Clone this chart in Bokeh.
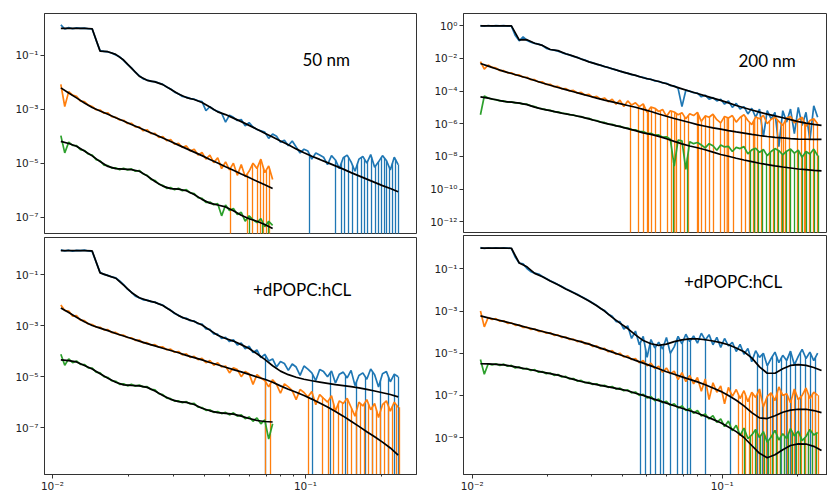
import numpy as np
from bokeh.plotting import figure
from bokeh.layouts import row, column
from bokeh.models import FixedTicker, CustomJSTickFormatter, Range1d, Label
from bokeh.embed import file_html
from bokeh.resources import INLINE

# ---------------- shared momentum-transfer grid (q, 1/A) ----------------
q = [0.01079, 0.01118, 0.01159, 0.01201, 0.01244, 0.01290, 0.01337, 0.01385, 0.01435, 0.01488,
     0.01542, 0.01598, 0.01656, 0.01716, 0.01778, 0.01843, 0.01910, 0.01979, 0.02051, 0.02126,
     0.02203, 0.02283, 0.02366, 0.02452, 0.02541, 0.02633, 0.02729, 0.02828, 0.02931, 0.03037,
     0.03148, 0.03262, 0.03381, 0.03504, 0.03631, 0.03763, 0.03899, 0.04041, 0.04188, 0.04340,
     0.04498, 0.04661, 0.04831, 0.05006, 0.05188, 0.05377, 0.05572, 0.05775, 0.05984, 0.06202,
     0.06427, 0.06661, 0.06903, 0.07154, 0.07414, 0.07683, 0.07962, 0.08252, 0.08552, 0.08862,
     0.09184, 0.09518, 0.09864, 0.1022, 0.1059, 0.1098, 0.1138, 0.1179, 0.1222, 0.1267,
     0.1313, 0.1361, 0.1410, 0.1461, 0.1514, 0.1569, 0.1626, 0.1685, 0.1747, 0.1810,
     0.1876, 0.1944, 0.2015, 0.2088, 0.2164, 0.2243, 0.2324, 0.2409, 0.2496, 0.2587, 0.2681]

# ---------------- log10(R): data on q[:n], fits on q[::2][:n] ----------------
# ---------------- *_zero: log10(q) where the measured R is <= 0 (drops off the log axis)
# 50 nm (top left)
tl_blue = [0.12, -0.03, 0.02, -0.02, 0.01, -0.01, 0.00, -0.02, -0.03, -0.45,
           -0.83, -0.86, -0.88, -0.92, -0.99, -1.06, -1.19, -1.34, -1.47, -1.63,
           -1.76, -1.88, -1.92, -1.97, -1.98, -2.03, -2.08, -2.18, -2.25, -2.37,
           -2.43, -2.53, -2.55, -2.61, -2.63, -2.69, -2.72, -3.05, -2.91, -3.02,
           -3.08, -3.15, -3.48, -3.22, -3.30, -3.42, -3.38, -3.62, -3.50, -3.66,
           -3.75, -3.80, -3.85, -4.08, -3.92, -4.00, -4.22, -4.15, -4.35, -4.18,
           -4.40, -4.62, -4.48, -4.55, -4.85, -4.62, -4.70, -4.78, -5.05, -4.72,
           -4.88, -5.20, -4.80, -4.70, -4.95, -5.30, -4.85, -4.75, -5.00, -4.68,
           -5.15, -4.95, -4.72, -4.90, -5.25, -4.78, -5.05]
tl_blue_zero = [-0.9842, -0.8814, -0.8577, -0.8458, -0.8300, -0.8142, -0.7945, -0.7787,
                -0.7668, -0.7549, -0.7391, -0.7233, -0.7115, -0.6996, -0.6877, -0.6798,
                -0.6680, -0.6561, -0.6443, -0.6324]
tl_blue_fit = [-0.01, -0.01, -0.01, -0.01, -0.02, -0.85, -0.87, -0.97, -1.18, -1.48,
               -1.78, -1.93, -1.99, -2.09, -2.26, -2.44, -2.57, -2.64, -2.75, -2.92,
               -3.10, -3.20, -3.33, -3.46, -3.60, -3.74, -3.89, -4.03, -4.18, -4.32,
               -4.47, -4.61, -4.74, -4.86, -4.98, -5.10, -5.22, -5.35, -5.47, -5.59,
               -5.71, -5.83, -5.94, -6.06]
tl_orange = [-2.08, -2.90, -2.35, -2.48, -2.52, -2.70, -2.72, -2.85, -2.90, -3.02,
             -3.03, -3.15, -3.14, -3.28, -3.30, -3.40, -3.41, -3.53, -3.52, -3.66,
             -3.65, -3.80, -3.76, -3.91, -3.89, -4.05, -4.01, -4.17, -4.12, -4.30,
             -4.26, -4.42, -4.36, -4.55, -4.48, -4.70, -4.60, -4.85, -4.70, -4.98,
             -4.80, -5.20, -4.95, -5.25, -5.00, -5.45, -5.05, -5.50, -5.30, -5.00,
             -5.20, -4.85, -5.35, -5.10, -5.60]
tl_orange_zero = [-1.2964, -1.2292, -1.2095, -1.1897, -1.1779, -1.1660, -1.1542, -1.1423]
tl_orange_fit = [-2.21, -2.40, -2.58, -2.77, -2.94, -3.07, -3.19, -3.32, -3.44, -3.57,
                 -3.69, -3.82, -3.94, -4.07, -4.20, -4.33, -4.46, -4.59, -4.72, -4.86,
                 -4.99, -5.13, -5.26, -5.40, -5.53, -5.67, -5.80, -5.94]
tl_green = [-3.98, -4.62, -4.22, -4.34, -4.35, -4.50, -4.53, -4.66, -4.70, -4.87,
            -4.91, -5.07, -5.09, -5.18, -5.17, -5.24, -5.19, -5.25, -5.21, -5.30,
            -5.27, -5.40, -5.45, -5.60, -5.64, -5.78, -5.82, -5.93, -5.90, -5.98,
            -5.93, -6.02, -5.98, -6.10, -6.13, -6.28, -6.30, -6.45, -6.44, -6.54,
            -6.50, -6.95, -6.55, -6.75, -6.68, -6.90, -6.82, -7.15, -6.95, -7.10,
            -7.20, -7.05, -7.35, -7.15, -7.30]
tl_green_zero = [-1.2213, -1.1700, -1.1462]
tl_green_fit = [-4.19, -4.27, -4.37, -4.55, -4.73, -4.94, -5.12, -5.20, -5.22, -5.24,
                -5.30, -5.47, -5.68, -5.85, -5.94, -5.96, -6.02, -6.16, -6.34, -6.48,
                -6.55, -6.62, -6.76, -6.93, -7.06, -7.15, -7.27, -7.42]

# 50 nm +dPOPC:hCL (bottom left)
bl_blue = [-0.02, -0.06, -0.03, -0.07, -0.04, -0.05, -0.03, -0.06, -0.08, -0.50,
           -0.90, -0.98, -1.02, -1.08, -1.12, -1.24, -1.38, -1.56, -1.68, -1.84,
           -1.90, -1.98, -1.99, -2.05, -2.07, -2.14, -2.19, -2.30, -2.38, -2.52,
           -2.58, -2.69, -2.70, -2.80, -2.81, -2.92, -2.93, -3.12, -3.14, -3.32,
           -3.33, -3.50, -3.45, -3.62, -3.55, -3.75, -3.68, -3.90, -3.80, -4.05,
           -3.95, -4.25, -4.12, -4.38, -4.30, -4.62, -4.40, -4.48, -4.75, -4.50,
           -4.62, -4.95, -4.58, -4.70, -4.85, -5.15, -4.72, -4.80, -5.00, -4.78,
           -5.25, -4.90, -4.82, -5.05, -4.75, -5.35, -4.95, -4.85, -5.10, -4.70,
           -4.92, -5.40, -4.88, -4.80, -5.20, -4.90, -5.00]
bl_blue_zero = [-1.1581, -0.9723, -0.9012, -0.8419, -0.7984, -0.7628, -0.7352, -0.7036,
                -0.6719, -0.6482, -0.6324]
bl_blue_fit = [-0.05, -0.05, -0.05, -0.05, -0.06, -0.92, -1.03, -1.13, -1.40, -1.69,
               -1.90, -2.00, -2.08, -2.20, -2.40, -2.60, -2.73, -2.83, -2.97, -3.17,
               -3.37, -3.50, -3.60, -3.74, -3.89, -4.10, -4.32, -4.57, -4.78, -4.92,
               -5.02, -5.10, -5.16, -5.21, -5.26, -5.31, -5.35, -5.39, -5.44, -5.50,
               -5.56, -5.63, -5.70, -5.79]
bl_orange = [-2.18, -2.40, -2.42, -2.62, -2.60, -2.78, -2.80, -2.93, -2.95, -3.05,
             -3.06, -3.16, -3.15, -3.27, -3.26, -3.36, -3.37, -3.46, -3.47, -3.57,
             -3.56, -3.67, -3.66, -3.76, -3.74, -3.84, -3.83, -3.94, -3.92, -4.04,
             -4.01, -4.14, -4.10, -4.24, -4.20, -4.33, -4.28, -4.45, -4.36, -4.55,
             -4.45, -4.62, -4.58, -4.85, -4.65, -4.72, -5.00, -4.80, -4.88, -5.30,
             -4.92, -5.05, -5.15, -5.40, -5.12, -5.30, -5.65, -5.28, -5.40, -5.55,
             -5.90, -5.50, -5.62, -5.80, -5.58, -6.10, -5.70, -5.85, -6.00, -5.75,
             -6.35, -5.95, -6.05, -5.85, -6.20, -6.55, -6.00, -6.15, -5.90, -6.30,
             -6.05, -6.60, -6.10, -5.95, -6.35, -6.00, -6.20]
bl_orange_zero = [-1.1581, -1.1383, -0.9881, -0.9328, -0.9091, -0.8893, -0.8696, -0.8538,
                  -0.8340, -0.8182, -0.7984, -0.7826, -0.7668, -0.7510, -0.7352, -0.7194,
                  -0.7036, -0.6877, -0.6719, -0.6561, -0.6403, -0.6285]
bl_orange_fit = [-2.30, -2.48, -2.66, -2.84, -2.99, -3.09, -3.19, -3.30, -3.40, -3.50,
                 -3.60, -3.70, -3.79, -3.88, -3.97, -4.06, -4.16, -4.25, -4.34, -4.44,
                 -4.53, -4.63, -4.72, -4.81, -4.91, -5.01, -5.10, -5.22, -5.36, -5.49,
                 -5.61, -5.74, -5.88, -6.03, -6.19, -6.37, -6.55, -6.75, -6.95, -7.16,
                 -7.36, -7.57, -7.80, -8.08]
bl_green = [-4.12, -4.55, -4.30, -4.45, -4.38, -4.52, -4.52, -4.65, -4.66, -4.82,
            -4.85, -5.00, -5.03, -5.16, -5.18, -5.30, -5.28, -5.36, -5.30, -5.37,
            -5.33, -5.40, -5.39, -5.50, -5.52, -5.67, -5.70, -5.84, -5.86, -5.96,
            -5.95, -6.02, -5.98, -6.07, -6.05, -6.20, -6.21, -6.32, -6.30, -6.40,
            -6.37, -6.45, -6.40, -6.50, -6.42, -6.55, -6.50, -6.65, -6.58, -6.75,
            -6.62, -6.85, -6.70, -7.45, -6.85]
bl_green_zero = []
bl_green_fit = [-4.34, -4.37, -4.42, -4.56, -4.70, -4.88, -5.06, -5.22, -5.32, -5.34,
                -5.36, -5.42, -5.56, -5.74, -5.89, -5.98, -6.01, -6.09, -6.24, -6.34,
                -6.41, -6.44, -6.47, -6.55, -6.64, -6.72, -6.76, -6.78]

# 200 nm (top right)
tr_blue = [0.01, -0.03, 0.02, -0.02, 0.01, -0.01, 0.01, -0.02, -0.02, -0.60,
           -0.92, -0.68, -0.90, -1.00, -1.08, -1.12, -1.21, -1.38, -1.45, -1.49,
           -1.55, -1.64, -1.72, -1.78, -1.88, -1.93, -2.04, -2.10, -2.20, -2.27,
           -2.36, -2.41, -2.50, -2.55, -2.64, -2.70, -2.78, -2.85, -2.90, -2.99,
           -3.03, -3.12, -3.16, -3.25, -3.27, -3.38, -3.40, -3.50, -3.52, -3.66,
           -3.68, -3.83, -4.95, -3.95, -4.00, -4.10, -4.12, -4.35, -4.25, -4.50,
           -4.40, -4.60, -4.50, -4.80, -4.60, -5.00, -4.75, -5.10, -4.95, -5.40,
           -5.05, -5.60, -5.10, -6.80, -5.20, -5.70, -5.30, -7.40, -5.20, -5.90,
           -5.10, -6.60, -5.00, -6.10, -5.30, -7.00, -4.90, -5.60]
tr_blue_zero = []
tr_blue_fit = [0.00, 0.00, 0.00, 0.00, -0.01, -0.86, -0.85, -1.07, -1.20, -1.45,
               -1.52, -1.71, -1.86, -2.03, -2.21, -2.35, -2.49, -2.63, -2.78, -2.91,
               -3.04, -3.18, -3.29, -3.41, -3.55, -3.71, -3.86, -4.01, -4.15, -4.29,
               -4.43, -4.57, -4.72, -4.88, -5.02, -5.16, -5.29, -5.41, -5.52, -5.63,
               -5.75, -5.87, -5.96, -6.04, -6.10]
tr_orange = [-2.20, -2.65, -2.40, -2.55, -2.58, -2.74, -2.75, -2.88, -2.88, -3.02,
             -3.01, -3.15, -3.15, -3.30, -3.30, -3.45, -3.44, -3.59, -3.58, -3.73,
             -3.71, -3.86, -3.84, -3.99, -3.96, -4.12, -4.08, -4.25, -4.20, -4.38,
             -4.32, -4.50, -4.42, -4.65, -4.50, -4.80, -4.55, -4.95, -4.60, -4.85,
             -4.72, -4.95, -4.78, -5.30, -4.98, -5.05, -5.25, -5.12, -5.55, -5.20,
             -5.28, -5.45, -5.32, -5.70, -5.38, -5.50, -5.30, -5.85, -5.52, -5.60,
             -5.42, -5.75, -5.95, -5.55, -5.65, -5.50, -5.90, -5.62, -5.45, -5.80,
             -6.05, -5.58, -5.70, -5.48, -6.00, -5.72, -5.60, -5.85, -6.10, -5.65,
             -5.55, -5.95, -5.75, -5.60, -6.15, -5.80, -5.70, -6.00]
tr_orange_zero = [-1.3668, -1.3348, -1.3148, -1.2988, -1.2950, -1.2828, -1.2668, -1.2468,
                  -1.2188, -1.2028, -1.1900, -1.1828, -1.1668, -1.1508, -1.1348, -1.0988,
                  -1.0950, -1.0828, -1.0668, -1.0508, -1.0348, -1.0068, -0.9908, -0.9800,
                  -0.9748, -0.9548, -0.9228, -0.9068, -0.8908, -0.8748, -0.8700, -0.8588,
                  -0.8428, -0.8108, -0.7948, -0.7788, -0.7628, -0.7550, -0.7468, -0.7308,
                  -0.6988, -0.6828, -0.6700, -0.6668, -0.6508, -0.6348, -0.6188]
tr_orange_fit = [-2.31, -2.47, -2.63, -2.79, -2.92, -3.06, -3.20, -3.35, -3.50, -3.64,
                 -3.78, -3.91, -4.04, -4.17, -4.30, -4.43, -4.55, -4.66, -4.77, -4.88,
                 -4.99, -5.12, -5.25, -5.40, -5.54, -5.68, -5.80, -5.92, -6.05, -6.15,
                 -6.25, -6.33, -6.42, -6.50, -6.57, -6.65, -6.72, -6.78, -6.83, -6.87,
                 -6.91, -6.94, -6.95, -6.96, -6.96]
tr_green = [-5.45, -4.30, -4.42, -4.50, -4.52, -4.60, -4.60, -4.68, -4.66, -4.72,
            -4.72, -4.80, -4.80, -4.90, -4.95, -5.05, -5.08, -5.15, -5.18, -5.26,
            -5.27, -5.35, -5.37, -5.44, -5.46, -5.54, -5.56, -5.65, -5.67, -5.77,
            -5.80, -5.90, -5.92, -6.02, -6.03, -6.13, -6.14, -6.24, -6.26, -6.36,
            -6.37, -6.48, -6.48, -6.60, -6.58, -6.70, -6.68, -6.82, -6.80, -6.95,
            -8.60, -7.00, -7.05, -8.80, -7.10, -7.22, -7.15, -7.30, -7.48, -7.22,
            -7.35, -7.62, -7.30, -7.42, -7.38, -7.70, -7.45, -7.52, -7.40, -7.85,
            -7.60, -7.50, -7.75, -7.58, -7.95, -7.70, -7.52, -7.65, -7.90, -7.68,
            -7.55, -7.80, -7.62, -8.05, -7.70, -7.85, -7.55, -7.95]
tr_green_zero = [-1.1948, -1.1388, -0.8868, -0.8708, -0.8548, -0.8388, -0.8228, -0.8068,
                 -0.7908, -0.7748, -0.7588, -0.7428, -0.7268, -0.7108, -0.6948, -0.6788,
                 -0.6628, -0.6468, -0.6308, -0.6148]
tr_green_fit = [-4.35, -4.43, -4.53, -4.63, -4.68, -4.74, -4.83, -4.98, -5.10, -5.20,
                -5.30, -5.40, -5.48, -5.58, -5.70, -5.83, -5.96, -6.07, -6.18, -6.30,
                -6.42, -6.56, -6.65, -6.77, -6.92, -7.08, -7.23, -7.36, -7.47, -7.59,
                -7.74, -7.88, -7.99, -8.11, -8.22, -8.32, -8.42, -8.50, -8.58, -8.65,
                -8.71, -8.77, -8.81, -8.86, -8.89]

# 200 nm +dPOPC:hCL (bottom right)
br_blue = [0.01, -0.03, 0.00, -0.02, 0.00, -0.02, 0.00, -0.01, -0.03, -0.45,
           -0.72, -0.76, -0.98, -1.13, -1.20, -1.24, -1.36, -1.46, -1.56, -1.64,
           -1.74, -1.83, -1.94, -2.02, -2.12, -2.20, -2.31, -2.40, -2.51, -2.62,
           -2.73, -2.88, -2.97, -3.15, -3.25, -3.50, -3.50, -3.85, -3.70, -4.30,
           -3.95, -4.60, -4.20, -5.20, -4.35, -4.75, -4.48, -4.80, -4.25, -5.00,
           -4.70, -4.20, -4.55, -4.10, -4.45, -4.18, -4.52, -4.05, -4.38, -4.12,
           -4.60, -4.25, -4.72, -4.30, -4.65, -4.48, -4.92, -4.58, -5.05, -4.78,
           -5.40, -4.88, -5.20, -5.00, -5.60, -5.25, -4.95, -5.45, -5.10, -5.35,
           -4.90, -5.55, -5.15, -4.82, -5.25, -4.95, -5.35, -5.00]
br_blue_zero = [-1.3268, -1.3068, -1.2868, -1.2668, -1.2468, -1.2348, -1.2068, -1.1788,
                -1.1588, -1.1388, -1.1268, -1.0668, -0.9668, -0.8588, -0.8388, -0.8188,
                -0.7988, -0.7828, -0.7628, -0.7428, -0.7268, -0.7068, -0.6868, -0.6668,
                -0.6468, -0.6268]
br_blue_fit = [-0.01, -0.01, -0.01, -0.01, -0.02, -0.72, -0.90, -1.21, -1.37, -1.57,
               -1.75, -1.95, -2.13, -2.32, -2.52, -2.75, -3.00, -3.30, -3.57, -3.83,
               -4.13, -4.40, -4.55, -4.63, -4.57, -4.45, -4.37, -4.32, -4.32, -4.36,
               -4.42, -4.50, -4.60, -4.75, -4.93, -5.22, -5.65, -5.95, -5.95, -5.74,
               -5.58, -5.54, -5.58, -5.68, -5.82]
br_orange = [-3.00, -3.75, -3.30, -3.40, -3.36, -3.48, -3.46, -3.58, -3.56, -3.68,
             -3.66, -3.78, -3.76, -3.87, -3.85, -3.96, -3.95, -4.05, -4.03, -4.15,
             -4.13, -4.25, -4.23, -4.35, -4.33, -4.45, -4.42, -4.56, -4.53, -4.68,
             -4.65, -4.80, -4.77, -4.93, -4.88, -5.05, -5.00, -5.18, -5.12, -5.30,
             -5.25, -5.45, -5.35, -5.60, -5.48, -5.72, -5.62, -5.90, -5.70, -5.98,
             -5.85, -6.25, -5.92, -6.35, -6.05, -6.45, -6.15, -6.80, -6.22, -7.20,
             -6.40, -6.85, -6.55, -7.40, -6.62, -7.05, -6.72, -7.15, -6.78, -7.30,
             -6.85, -7.10, -6.70, -7.55, -7.05, -6.88, -7.25, -6.60, -7.00, -6.92,
             -7.35, -6.70, -7.20, -7.00, -6.65, -7.15, -6.85, -7.00]
br_orange_zero = [-0.9348, -0.9188, -0.9068, -0.8908, -0.8788, -0.8628, -0.8508, -0.8348,
                  -0.8228, -0.8068, -0.7948, -0.7788, -0.7668, -0.7508, -0.7388, -0.7228,
                  -0.7108, -0.6948, -0.6828, -0.6668, -0.6548, -0.6388, -0.6268, -0.6148]
br_orange_fit = [-3.23, -3.32, -3.40, -3.49, -3.58, -3.68, -3.78, -3.87, -3.97, -4.06,
                 -4.16, -4.26, -4.36, -4.46, -4.57, -4.70, -4.82, -4.95, -5.07, -5.20,
                 -5.34, -5.47, -5.60, -5.74, -5.88, -6.00, -6.12, -6.24, -6.36, -6.50,
                 -6.65, -6.81, -7.01, -7.23, -7.50, -7.82, -8.07, -8.10, -7.97, -7.80,
                 -7.70, -7.66, -7.66, -7.72, -7.82]
br_green = [-5.30, -6.00, -5.50, -5.55, -5.50, -5.58, -5.52, -5.62, -5.58, -5.70,
            -5.65, -5.75, -5.72, -5.82, -5.78, -5.90, -5.87, -5.97, -5.94, -6.05,
            -6.01, -6.13, -6.10, -6.22, -6.20, -6.32, -6.29, -6.40, -6.38, -6.48,
            -6.45, -6.55, -6.52, -6.62, -6.58, -6.70, -6.66, -6.78, -6.74, -6.88,
            -6.84, -7.00, -6.95, -7.12, -7.06, -7.25, -7.18, -7.35, -7.28, -7.48,
            -7.40, -7.60, -7.50, -7.72, -7.62, -7.85, -7.72, -7.98, -7.88, -8.12,
            -7.96, -8.28, -8.12, -8.48, -8.22, -8.68, -8.42, -8.90, -8.55, -9.05,
            -8.88, -8.62, -9.00, -8.72, -9.22, -8.98, -8.66, -9.12, -8.82, -9.05,
            -8.58, -8.92, -8.70, -9.15, -8.95, -8.62, -8.88, -8.76]
br_green_zero = [-0.9108, -0.8868, -0.8668, -0.8468, -0.8308, -0.8148, -0.7988, -0.7828,
                 -0.7668, -0.7508, -0.7348, -0.7188, -0.7028, -0.6868, -0.6708, -0.6548,
                 -0.6388, -0.6228]
br_green_fit = [-5.50, -5.51, -5.53, -5.55, -5.61, -5.68, -5.75, -5.82, -5.90, -5.97,
                -6.04, -6.14, -6.24, -6.34, -6.42, -6.49, -6.56, -6.63, -6.70, -6.78,
                -6.90, -7.00, -7.13, -7.25, -7.37, -7.49, -7.61, -7.73, -7.85, -7.99,
                -8.14, -8.30, -8.50, -8.72, -9.00, -9.38, -9.75, -9.96, -9.82, -9.58,
                -9.38, -9.30, -9.31, -9.42, -9.62]

panel_labels = ["50 nm", "+dPOPC:hCL", "200 nm", "+dPOPC:hCL"]
x_major = [0.01, 0.1]
x_minor = [0.02, 0.03, 0.04, 0.05, 0.06, 0.07, 0.08, 0.09, 0.2]
yt_left = [1e-1, 1e-3, 1e-5, 1e-7]
yt_tr = [1e0, 1e-2, 1e-4, 1e-6, 1e-8, 1e-10, 1e-12]
yt_br = [1e-1, 1e-3, 1e-5, 1e-7, 1e-9]

BLUE, ORANGE, GREEN = "#1f77b4", "#ff7f0e", "#2ca02c"
EDGE = "#333333"
FLOOR = 1e-20   # stand-in for non-positive reflectivity on the log axis

SUP = """
const sup = {"-": "\u207b", "0": "\u2070", "1": "\u00b9", "2": "\u00b2", "3": "\u00b3",
             "4": "\u2074", "5": "\u2075", "6": "\u2076", "7": "\u2077", "8": "\u2078", "9": "\u2079"};
const e = Math.round(Math.log10(tick));
let s = "";
for (const c of String(e)) { s += sup[c]; }
return "10" + s;
"""


def panel(w, h, borders, xlog, ylog, yticks, show_x, series, fits, text, text_pos):
    left, right, top, bottom = borders
    p = figure(width=w, height=h, x_axis_type="log", y_axis_type="log",
               x_range=Range1d(10 ** xlog[0], 10 ** xlog[1]),
               y_range=Range1d(10 ** ylog[0], 10 ** ylog[1]),
               output_backend="svg", toolbar_location=None,
               min_border_left=left, min_border_right=right,
               min_border_top=top, min_border_bottom=bottom)
    p.grid.visible = False
    p.outline_line_color = EDGE
    p.outline_line_width = 1
    p.background_fill_color = "white"
    p.border_fill_color = "white"

    p.yaxis.ticker = FixedTicker(ticks=yticks, minor_ticks=[])
    p.yaxis.formatter = CustomJSTickFormatter(code=SUP)
    p.xaxis.ticker = FixedTicker(ticks=x_major, minor_ticks=x_minor)
    p.xaxis.formatter = CustomJSTickFormatter(code=SUP)
    for ax in (p.xaxis, p.yaxis):
        ax.axis_line_color = EDGE
        ax.major_tick_line_color = EDGE
        ax.minor_tick_line_color = EDGE
        ax.major_tick_in = 0
        ax.major_tick_out = 4
        ax.minor_tick_in = 0
        ax.minor_tick_out = 2
        ax.major_label_text_font = "DejaVu Sans"
        ax.major_label_text_font_size = "10.5px"
        ax.major_label_text_color = "#222222"
        ax.major_label_standoff = 2
    p.xaxis.major_label_standoff = 1
    p.xaxis.visible = show_x

    for (data, zeros), color in zip(series, (BLUE, ORANGE, GREEN)):
        qd = q[:len(data)]
        p.line(qd, 10 ** np.array(data), line_color=color, line_width=1.7)
        if zeros:
            lz = np.array(zeros)
            top_val = np.interp(lz, np.log10(qd), data)
            p.segment(x0=10 ** lz, y0=10 ** top_val, x1=10 ** lz, y1=FLOOR,
                      line_color=color, line_width=1.3)
    for fit in fits:
        p.line(q[::2][:len(fit)], 10 ** np.array(fit), line_color="black", line_width=1.7)

    p.add_layout(Label(x=text_pos[0], y=text_pos[1], text=text, text_font="Lato",
                       text_font_size="17px", text_color="black",
                       text_align="left", text_baseline="middle"))
    return p


xl = (-2.0316, -0.5613)
xr = (-2.0348, -0.5788)

tl = panel(418, 235, (44, 2, 13, 2), xl, (-7.604, 0.544), yt_left, False,
           [(tl_blue, tl_blue_zero), (tl_orange, tl_orange_zero), (tl_green, tl_green_zero)],
           [tl_blue_fit, tl_orange_fit, tl_green_fit], panel_labels[0], (0.0973, 0.0664))
bl = panel(418, 259, (44, 2, 2, 18), xl, (-8.842, 0.469), yt_left, True,
           [(bl_blue, bl_blue_zero), (bl_orange, bl_orange_zero), (bl_green, bl_green_zero)],
           [bl_blue_fit, bl_orange_fit, bl_green_fit], panel_labels[1], (0.0620, 0.0277))
tr = panel(409, 234, (45, 0, 13, 2), xr, (-12.66, 0.753), yt_tr, False,
           [(tr_blue, tr_blue_zero), (tr_orange, tr_orange_zero), (tr_green, tr_green_zero)],
           [tr_blue_fit, tr_orange_fit, tr_green_fit], panel_labels[2], (0.1161, 0.0075))
br = panel(409, 260, (45, 0, 1, 18), xr, (-10.755, 0.586), yt_br, True,
           [(br_blue, br_blue_zero), (br_orange, br_orange_zero), (br_green, br_green_zero)],
           [br_blue_fit, br_orange_fit, br_green_fit], panel_labels[3], (0.0703, 0.0263))

layout = row(column(tl, bl), column(tr, br))
open("out.html", "w").write(file_html(layout, INLINE))
